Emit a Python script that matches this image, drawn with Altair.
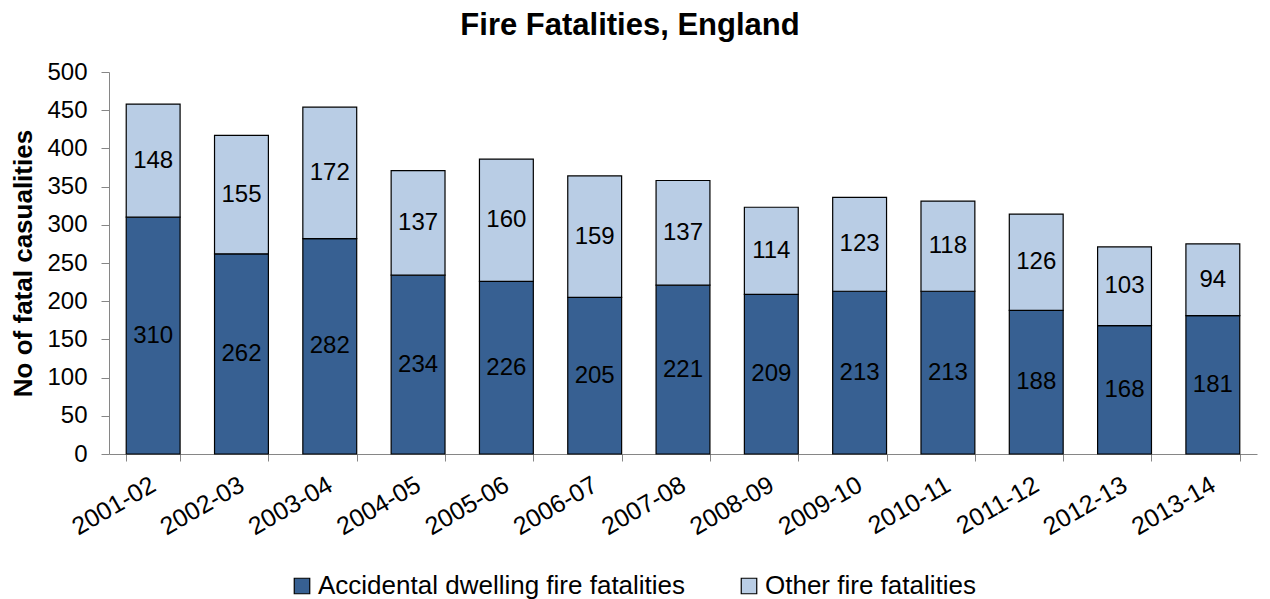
import altair as alt
import pandas as pd

years = ["2001-02", "2002-03", "2003-04", "2004-05", "2005-06", "2006-07", "2007-08",
         "2008-09", "2009-10", "2010-11", "2011-12", "2012-13", "2013-14"]
accidental = [310, 262, 282, 234, 226, 205, 221, 209, 213, 213, 188, 168, 181]
other = [148, 155, 172, 137, 160, 159, 137, 114, 123, 118, 126, 103, 94]
series = ["Accidental dwelling fire fatalities", "Other fire fatalities"]
colors = ["#376092", "#B9CDE5"]
y_ticks = [0, 50, 100, 150, 200, 250, 300, 350, 400, 450, 500]

rows = []
for i, y in enumerate(years):
    rows.append({"year": y, "series": series[0], "order": 0, "value": accidental[i]})
    rows.append({"year": y, "series": series[1], "order": 1, "value": other[i]})
df = pd.DataFrame(rows)

FONT = "Liberation Sans"

base = alt.Chart(df).transform_stack(
    stack="value", groupby=["year"], as_=["y0", "y1"],
    sort=[alt.SortField("order", order="ascending")]
).transform_calculate(mid="(datum.y0 + datum.y1) / 2")

x_axis = alt.Axis(
    title=None, labelAngle=-30, labelAlign="right", labelBaseline="top",
    labelFontSize=25, labelColor="#000000", labelFont=FONT, labelPadding=11,
    labelOffset=-6,
    tickBand="extent", tickSize=7, tickColor="#868686", domainColor="#868686",
    labelOverlap=False, labelBound=False,
)
y_axis = alt.Axis(
    title="No of fatal casualities", titleFontSize=26, titleFont=FONT,
    titleFontWeight="bold", titleColor="#000000", titlePadding=10,
    values=y_ticks, labelFontSize=24, labelFont=FONT, labelColor="#000000",
    labelPadding=14, tickSize=8, tickColor="#868686", domainColor="#868686",
    grid=False, labelOverlap=False, labelBound=False,
)
x_scale = alt.Scale(paddingInner=0.39, paddingOuter=0.195)
y_scale = alt.Scale(domain=[0, 500], nice=False)

bars = base.mark_bar(stroke="#000000", strokeWidth=1.2).encode(
    x=alt.X("year:N", sort=years, scale=x_scale, axis=x_axis),
    y=alt.Y("y0:Q", scale=y_scale, axis=y_axis),
    y2="y1:Q",
    color=alt.Color(
        "series:N",
        scale=alt.Scale(domain=series, range=colors),
        legend=alt.Legend(
            title=None, orient="none", direction="horizontal",
            legendX=180, legendY=501,
            symbolType="square", symbolSize=240, symbolStrokeColor="#000000",
            symbolStrokeWidth=1.2, symbolOpacity=1,
            labelFontSize=26, labelFont=FONT, labelColor="#000000",
            columnPadding=50, labelOffset=3, labelLimit=600,
        ),
    ),
)

labels = base.mark_text(fontSize=24, font=FONT, color="#000000").encode(
    x=alt.X("year:N", sort=years, scale=x_scale, axis=x_axis),
    y=alt.Y("mid:Q", scale=y_scale, axis=y_axis),
    text=alt.Text("value:Q"),
)

chart = alt.layer(bars, labels).properties(
    width=1148, height=382,
    padding={"left": 101, "top": 64, "right": 5, "bottom": 145},
    autosize=alt.AutoSizeParams(type="none"),
    title=alt.TitleParams(
        "Fire Fatalities, England", fontSize=31, font=FONT, fontWeight="bold",
        color="#000000", offset=18, anchor="middle", dx=-53,
    ),
).configure_view(stroke=None)

chart.save("out.html", embed_options={"renderer": "svg", "actions": False})
